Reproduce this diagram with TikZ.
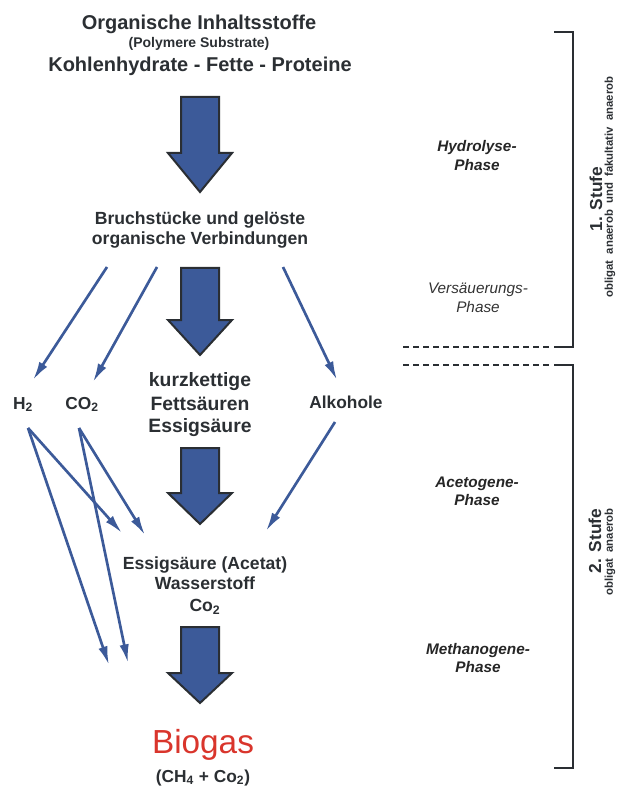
\documentclass[tikz,border=0pt]{standalone}
\usepackage{fontspec}
\setmainfont{Liberation Sans}
\usetikzlibrary{arrows.meta, positioning, calc}

\definecolor{txtgray}{HTML}{2B2F33}
\definecolor{arrowblue}{HTML}{3C5A99}
\definecolor{edgegray}{HTML}{2A2E33}
\definecolor{biored}{HTML}{D9352C}

% fat block arrow: top, neck, tip (x centre 200)
\newcommand{\fatarrow}[3]{%
  \draw[fat] (181,#1) -- (219,#1) -- (219,#2) -- (232,#2) -- (200,#3) -- (168,#2) -- (181,#2) -- cycle;}

\begin{document}
\begin{tikzpicture}[x=0.75pt, y=-0.75pt,
            % Define text styles
            bigtxt/.style={font=\bfseries\fontsize{15}{18}\selectfont, text=txtgray, anchor=base, inner sep=0pt},
            subtxt/.style={font=\bfseries\fontsize{10.5}{12}\selectfont, text=txtgray, anchor=base, inner sep=0pt},
            midtxt/.style={font=\bfseries\fontsize{13.2}{16}\selectfont, text=txtgray, anchor=base, inner sep=0pt},
            fsatxt/.style={font=\bfseries\fontsize{14.5}{17}\selectfont, text=txtgray, anchor=base, inner sep=0pt},
            gastxt/.style={font=\bfseries\fontsize{13}{16}\selectfont, text=txtgray, anchor=base, inner sep=0pt},
            biotxt/.style={font=\fontsize{25}{28}\selectfont, text=biored, anchor=base, inner sep=0pt},
            phase/.style={font=\bfseries\itshape\fontsize{11.5}{14}\selectfont, text=black!85, anchor=base, inner sep=0pt},
            phaselight/.style={font=\itshape\fontsize{11.5}{14}\selectfont, text=black!80, anchor=base, inner sep=0pt},
            stufe/.style={font=\bfseries\fontsize{13}{15}\selectfont, text=txtgray, rotate=90, inner sep=0pt},
            stufesub/.style={font=\bfseries\fontsize{8.5}{10}\selectfont, text=txtgray, rotate=90, inner sep=0pt},
            % Define line styles
            fat/.style={fill=arrowblue, draw=edgegray, line width=1.5pt, line join=miter},
            thinarr/.style={draw=arrowblue, line width=2pt, -{Latex[length=14pt,width=7pt]}},
            bracket/.style={draw=edgegray, line width=2.2pt},
            sep/.style={draw=edgegray, line width=1.2pt, dash pattern=on 4.5pt off 3pt}
        ]
        \useasboundingbox (0,0) rectangle (627,787);

        % Substrate
        \node[bigtxt] (title1) at (199,30) {Organische Inhaltsstoffe};
        \node[subtxt] (title2) at (199,48) {(Polymere Substrate)};
        \node[bigtxt] (title3) at (200,72) {Kohlenhydrate - Fette - Proteine};

        % Hydrolyse products
        \node[midtxt] (bruch1) at (200,225) {Bruchstücke und gelöste};
        \node[midtxt] (bruch2) at (200,245) {organische Verbindungen};

        % Acidification products
        \node[gastxt] (h2) at (23,409) {H\textsubscript{2}};
        \node[gastxt] (co2) at (82,409) {CO\textsubscript{2}};
        \node[fsatxt] (fs1) at (200,386) {kurzkettige};
        \node[fsatxt] (fs2) at (200,410) {Fettsäuren};
        \node[fsatxt] (fs3) at (200,432) {Essigsäure};
        \node[gastxt] (alk) at (346,408) {Alkohole};

        % Acetogenesis products
        \node[midtxt] (ace1) at (205,569) {Essigsäure (Acetat)};
        \node[midtxt] (ace2) at (205,589) {Wasserstoff};
        \node[midtxt] (ace3) at (205,611) {Co\textsubscript{2}};

        % Biogas
        \node[biotxt] (bio) at (203,753) {Biogas};
        \node[gastxt] (biomix) at (203,782) {(CH\textsubscript{4} + Co\textsubscript{2})};

        % Big arrows
        \fatarrow{97}{153}{192}
        \fatarrow{268}{320}{355}
        \fatarrow{448}{493}{524}
        \fatarrow{627}{673}{703}

        % Ports of the thin arrows
        \coordinate (bruch-h2) at (107,267);
        \coordinate (bruch-co2) at (157,267);
        \coordinate (bruch-alk) at (283,267);
        \coordinate (h2-in) at (33,380);
        \coordinate (co2-in) at (93,382);
        \coordinate (alk-in) at (337,380);
        \coordinate (h2-out) at (28,428);
        \coordinate (co2-out) at (79,428);
        \coordinate (alk-out) at (335,422);
        \coordinate (ace-h2) at (122,533);
        \coordinate (ace-co2) at (145,535);
        \coordinate (ace-alk) at (266,531);
        \coordinate (bio-h2) at (109,665);
        \coordinate (bio-co2) at (128,663);

        % Thin arrows
        \draw[thinarr] (bruch-h2) -- (h2-in);
        \draw[thinarr] (bruch-co2) -- (co2-in);
        \draw[thinarr] (bruch-alk) -- (alk-in);
        \draw[thinarr] (h2-out) -- (ace-h2);
        \draw[thinarr] (h2-out) -- (bio-h2);
        \draw[thinarr] (co2-out) -- (ace-co2);
        \draw[thinarr] (co2-out) -- (bio-co2);
        \draw[thinarr] (alk-out) -- (ace-alk);

        % Phases
        \node[phase] (hyd1) at (477,152) {Hydrolyse-};
        \node[phase] (hyd2) at (477,171) {Phase};
        \node[phaselight] (ver1) at (478,294) {Versäuerungs-};
        \node[phaselight] (ver2) at (478,313) {Phase};
        \node[phase] (acg1) at (477,487) {Acetogene-};
        \node[phase] (acg2) at (477,505) {Phase};
        \node[phase] (met1) at (478,654) {Methanogene-};
        \node[phase] (met2) at (478,672) {Phase};

        % Stages
        \draw[bracket] (554,32) -- (573,32) -- (573,347) -- (554,347);
        \draw[sep] (403,347) -- (552,347);
        \draw[sep] (403,365) -- (552,365);
        \draw[bracket] (554,365) -- (573,365) -- (573,768) -- (554,768);

        \node[stufe] (st1) at (596,199) {1. Stufe};
        \node[stufesub] (st1sub) at (610,187) {obligat~~anaerob~~und~~fakultativ~~anaerob};
        \node[stufe] (st2) at (595,541) {2. Stufe};
        \node[stufesub] (st2sub) at (610,552) {obligat~~anaerob};

\end{tikzpicture}
\end{document}
